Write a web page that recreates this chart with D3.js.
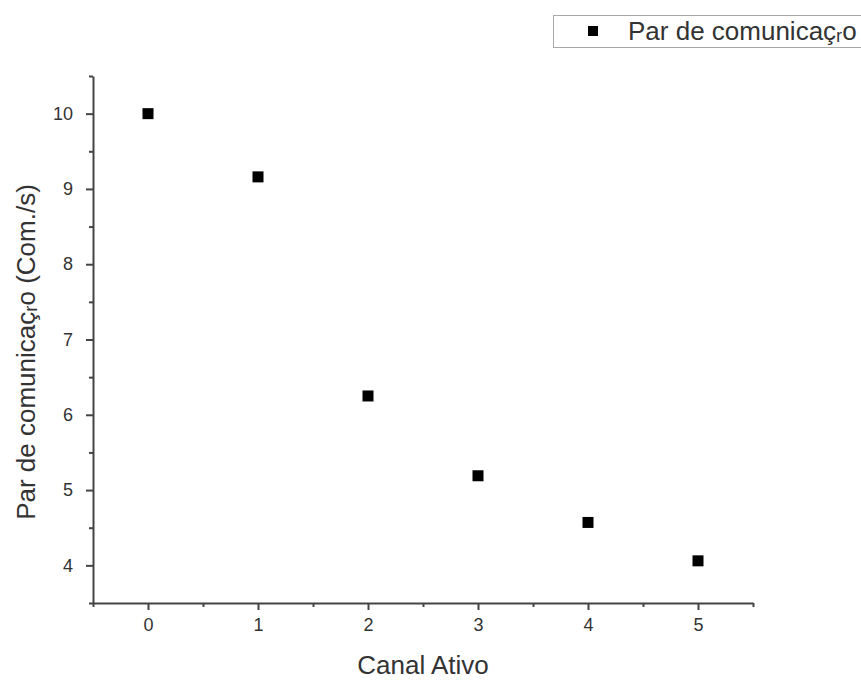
<!DOCTYPE html>
<meta charset="utf-8">
<style>
    body { margin: 0; background: white; }
    text { font-family: "Liberation Sans", Arial, sans-serif; fill: #333; }
    .axis path, .axis line { stroke: #444; stroke-width: 2px; }
</style>
<body>
<script src="https://d3js.org/d3.v7.min.js"></script>
<script>
    var canal = [0, 1, 2, 3, 4, 5];
    var taxa = [10.0, 9.16, 6.25, 5.19, 4.57, 4.06];
    var xTicks = [0, 1, 2, 3, 4, 5];
    var yTicks = [4, 5, 6, 7, 8, 9, 10];
    var xMinor = [-0.5, 0.5, 1.5, 2.5, 3.5, 4.5, 5.5];
    var yMinor = [3.5, 4.5, 5.5, 6.5, 7.5, 8.5, 9.5, 10.5];
    var seriesName = "Par de comunica\u00e7\u1d63o";

    var width = 861, height = 681;

    var svg = d3.select("body").append("svg")
        .attr("width", width)
        .attr("height", height);

    var x = d3.scaleLinear().domain([-0.5, 5.5]).range([93, 753]);
    var y = d3.scaleLinear().domain([3.5, 10.5]).range([603, 76]);

    // minor ticks
    svg.append("g").attr("class", "axis")
        .attr("transform", "translate(0,603)")
        .call(d3.axisBottom(x).tickValues(xMinor).tickSize(4).tickFormat(""))
        .select(".domain").remove();
    svg.append("g").attr("class", "axis")
        .attr("transform", "translate(93,0)")
        .call(d3.axisLeft(y).tickValues(yMinor).tickSize(4).tickFormat(""))
        .select(".domain").remove();

    // major axes
    var xAxis = svg.append("g").attr("class", "axis")
        .attr("transform", "translate(0,603)")
        .call(d3.axisBottom(x).tickValues(xTicks).tickFormat(d3.format("d"))
            .tickSizeInner(7).tickSizeOuter(0).tickPadding(8));
    xAxis.selectAll("text").style("font-size", "18px").attr("fill", "#333");

    var yAxis = svg.append("g").attr("class", "axis")
        .attr("transform", "translate(93,0)")
        .call(d3.axisLeft(y).tickValues(yTicks).tickFormat(d3.format("d"))
            .tickSizeInner(7).tickSizeOuter(0).tickPadding(13));
    yAxis.selectAll("text").style("font-size", "18px").attr("fill", "#333");

    // axis titles
    svg.append("text")
        .attr("x", 423).attr("y", 674)
        .attr("text-anchor", "middle")
        .style("font-size", "26px")
        .text("Canal Ativo");

    svg.append("text")
        .attr("transform", "translate(35,352) rotate(-90)")
        .attr("text-anchor", "middle")
        .style("font-size", "26px")
        .text(seriesName + " (Com./s)");

    // points
    svg.selectAll("rect.pt")
        .data(canal)
        .enter().append("rect")
        .attr("class", "pt")
        .attr("x", function(d) { return x(d) - 5.5; })
        .attr("y", function(d, i) { return y(taxa[i]) - 5.5; })
        .attr("width", 11)
        .attr("height", 11)
        .style("fill", "black");

    // legend
    var lg = svg.append("g");
    lg.append("rect")
        .attr("x", 553.5).attr("y", 15.5)
        .attr("width", 320).attr("height", 32)
        .style("fill", "white")
        .style("stroke", "#aaa");
    lg.append("rect")
        .attr("x", 588).attr("y", 26)
        .attr("width", 10).attr("height", 10)
        .style("fill", "black");
    lg.append("text")
        .attr("x", 628).attr("y", 40)
        .style("font-size", "26px")
        .text(seriesName);
</script>
</body>
</html>
